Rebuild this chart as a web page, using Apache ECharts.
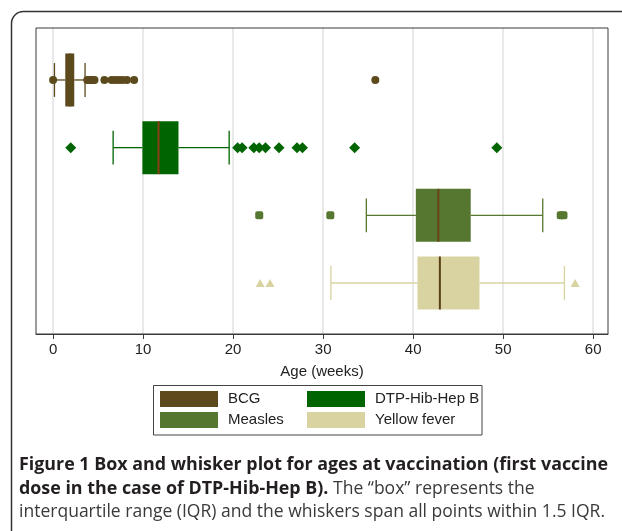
<!DOCTYPE html>
<html><head><meta charset="utf-8">
<script src="https://cdn.jsdelivr.net/npm/echarts@6/dist/echarts.min.js"></script>
<style>html,body{margin:0;padding:0;background:#fff;}#c{width:622px;height:531px;}</style>
</head><body><div id="c"></div>
<script>
// ---- data ----
const categories = ['BCG', 'DTP-Hib-Hep B', 'Measles', 'Yellow fever'];
const rowPos = [1, 2, 3, 4];
const whiskerLow  = [0.15, 6.67, 34.8, 30.86];
const q1          = [1.35, 9.92, 40.3, 40.48];
const median      = [1.9, 11.71, 42.8, 42.97];
const q3          = [2.35, 13.93, 46.4, 47.37];
const whiskerHigh = [3.55, 19.56, 54.4, 56.81];
const bcgOutliers = [0, 3.8, 4.0, 4.2, 4.4, 4.6, 5.7, 6.5, 6.9, 7.3, 7.7, 8.2, 9.0, 35.8];
const dtpOutliers = [1.96, 20.5, 21.0, 22.3, 22.9, 23.6, 25.1, 27.1, 27.7, 33.5, 49.3];
const measlesOutliers = [22.9, 30.8, 56.4, 56.7];
const yfOutliers = [23.0, 24.1, 58.0];
const outliers = [bcgOutliers, dtpOutliers, measlesOutliers, yfOutliers];
const xTicks = [0, 10, 20, 30, 40, 50, 60];
const axisTitle = 'Age (weeks)';
const captionLine1 = 'Figure 1 Box and whisker plot for ages at vaccination (first vaccine';
const captionLine2Bold = 'dose in the case of DTP-Hib-Hep B).';
const captionLine2Reg = ' The \u201cbox\u201d represents the';
const captionLine3 = 'interquartile range (IQR) and the whiskers span all points within 1.5 IQR.';

// ---- styles ----
const colors = ['#5c4a1d', '#006400', '#56772f', '#d8d3a0'];
const medianColors = ['#5c4a1d', '#8a3c14', '#6a4519', '#5a3f17'];
const symbols = ['circle', 'diamond', 'roundRect', 'triangle'];
const symbolSizes = [8, 11, 8, [9, 8]];
const BOX_H = 0.783, CAP_H = 0.5;

function makeRender(mc) {
  return function (params, api) {
    const y = api.value(0);
    const pLo = api.coord([api.value(1), y]);
    const pQ1 = api.coord([api.value(2), y]);
    const pMd = api.coord([api.value(3), y]);
    const pQ3 = api.coord([api.value(4), y]);
    const pHi = api.coord([api.value(5), y]);
    const bh = Math.abs(api.size([0, BOX_H])[1]);
    const ch = Math.abs(api.size([0, CAP_H])[1]);
    const color = api.visual('color');
    const cy = pMd[1];
    const ls = { stroke: color, lineWidth: 1.3 };
    return { type: 'group', children: [
      { type: 'line', shape: { x1: pLo[0], y1: cy, x2: pQ1[0], y2: cy }, style: ls },
      { type: 'line', shape: { x1: pQ3[0], y1: cy, x2: pHi[0], y2: cy }, style: ls },
      { type: 'line', shape: { x1: pLo[0], y1: cy - ch / 2, x2: pLo[0], y2: cy + ch / 2 }, style: ls },
      { type: 'line', shape: { x1: pHi[0], y1: cy - ch / 2, x2: pHi[0], y2: cy + ch / 2 }, style: ls },
      { type: 'rect', shape: { x: pQ1[0], y: cy - bh / 2, width: pQ3[0] - pQ1[0], height: bh }, style: { fill: color } },
      { type: 'line', shape: { x1: pMd[0], y1: cy - bh / 2, x2: pMd[0], y2: cy + bh / 2 }, style: { stroke: mc, lineWidth: 2 } }
    ] };
  };
}

const series = [];
categories.forEach((name, i) => {
  series.push({
    type: 'custom', name: name,
    renderItem: makeRender(medianColors[i]),
    itemStyle: { color: colors[i] },
    encode: { x: [1, 2, 3, 4, 5], y: 0 },
    data: [[rowPos[i], whiskerLow[i], q1[i], median[i], q3[i], whiskerHigh[i]]],
    z: 2
  });
});
categories.forEach((name, i) => {
  series.push({
    type: 'scatter', name: name,
    symbol: symbols[i], symbolSize: symbolSizes[i],
    itemStyle: { color: colors[i], opacity: 1 },
    data: outliers[i].map(v => [v, rowPos[i]]),
    z: 3
  });
});

// caption measurement
const mctx = document.createElement('canvas').getContext('2d');
const capFamily = '"Open Sans", sans-serif';
const boldFont = 'bold 18px ' + capFamily;
const regFont = '18px ' + capFamily;
mctx.font = boldFont;
const w1 = mctx.measureText(captionLine1).width;
const sB = 589 / w1;
const w2b = mctx.measureText(captionLine2Bold).width;
mctx.font = regFont;
const w3 = mctx.measureText(captionLine3).width;
const sR = 586 / w3;

const axisFont = 'Liberation Sans';
const chart = echarts.init(document.getElementById('c'));
chart.setOption({
  animation: false,
  backgroundColor: '#fff',
  grid: { left: 36, right: 14, top: 28, bottom: 197, outerBoundsMode: 'none', containLabel: false },
  xAxis: {
    type: 'value', min: -1.9, max: 61.65, position: 'bottom',
    name: axisTitle, nameLocation: 'middle', nameGap: 30,
    nameTextStyle: { fontSize: 15, fontFamily: axisFont, color: '#222' },
    axisLine: { show: true, lineStyle: { color: '#3a3a3a', width: 1 } },
    axisTick: { show: true, length: 5, customValues: xTicks, lineStyle: { color: '#3a3a3a' } },
    axisLabel: { customValues: xTicks, fontSize: 15, fontFamily: axisFont, color: '#222', margin: 8 },
    splitLine: { show: true, lineStyle: { color: '#e2e2e2', width: 1.5 } }
  },
  yAxis: {
    type: 'value', inverse: true, min: 0.232, max: 4.754,
    axisLine: { show: false },
    axisTick: { show: false }, axisLabel: { show: false }, splitLine: { show: false }
  },
  legend: [
    { data: ['BCG', 'Measles'], orient: 'vertical', left: 160, top: 391, itemWidth: 58, itemHeight: 16, itemGap: 5,
      icon: 'rect', padding: 0, textStyle: { fontFamily: axisFont, fontSize: 15, color: '#222', padding: [0, 0, 0, 5] } },
    { data: ['DTP-Hib-Hep B', 'Yellow fever'], orient: 'vertical', left: 307, top: 391, itemWidth: 58, itemHeight: 16, itemGap: 5,
      icon: 'rect', padding: 0, textStyle: { fontFamily: axisFont, fontSize: 15, color: '#222', padding: [0, 0, 0, 5] } }
  ],
  graphic: [
    { type: 'rect', x: 0, y: 0, z: 100, silent: true, shape: { x: 11.5, y: 11.5, width: 700, height: 560, r: 12 }, style: { fill: 'none', stroke: '#333', lineWidth: 1.5 } },
    { type: 'rect', x: 0, y: 0, z: 100, silent: true, shape: { x: 36, y: 28, width: 572, height: 306 }, style: { fill: 'none', stroke: '#3a3a3a', lineWidth: 1 } },
    { type: 'rect', x: 0, y: 0, z: 100, silent: true, shape: { x: 153.5, y: 385.5, width: 328.5, height: 49.5 }, style: { fill: 'none', stroke: '#444', lineWidth: 1 } },
    { type: 'text', x: 19, y: 465, scaleX: sB, z: 100, style: { text: captionLine1, font: boldFont, fill: '#231f20', textAlign: 'left', textVerticalAlign: 'middle' } },
    { type: 'text', x: 19, y: 489, scaleX: sB, z: 100, style: { text: captionLine2Bold, font: boldFont, fill: '#231f20', textAlign: 'left', textVerticalAlign: 'middle' } },
    { type: 'text', x: 19 + w2b * sB, y: 489, scaleX: sR, z: 100, style: { text: captionLine2Reg, font: regFont, fill: '#3a3a3a', textAlign: 'left', textVerticalAlign: 'middle' } },
    { type: 'text', x: 19, y: 512, scaleX: sR, z: 100, style: { text: captionLine3, font: regFont, fill: '#3a3a3a', textAlign: 'left', textVerticalAlign: 'middle' } }
  ],
  series: series
});
</script>
</body></html>
